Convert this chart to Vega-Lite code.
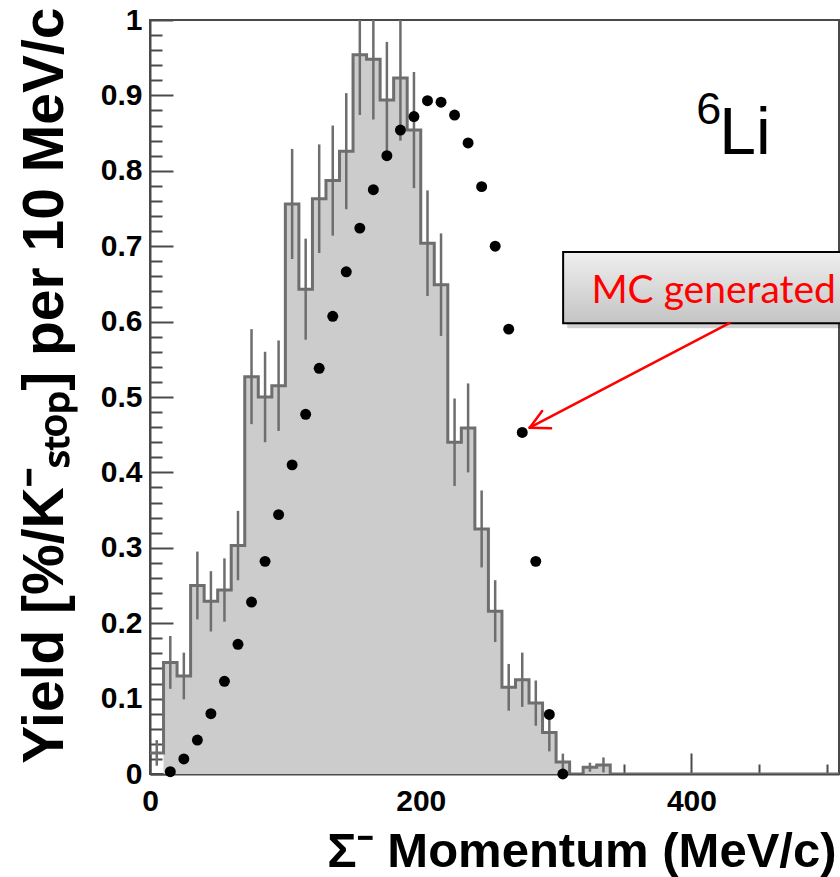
{
  "$schema": "https://vega.github.io/schema/vega-lite/v6.json",
  "width": 689,
  "height": 754,
  "autosize": {"type": "none"},
  "padding": {"left": 150, "top": 20, "right": 1, "bottom": 103},
  "background": "white",
  "config": {
    "view": {"stroke": "#4a4a4a", "strokeWidth": 2},
    "axis": {"grid": false, "domainColor": "#4a4a4a", "domainWidth": 2, "tickColor": "#4a4a4a", "tickWidth": 2, "labelColor": "black", "titleColor": "black", "labelFont": "Liberation Sans", "titleFont": "Liberation Sans", "labelFontWeight": "bold", "titleFontWeight": "bold", "labelOverlap": false, "labelFlush": false, "labelBound": false}
  },
  "datasets": {
    "hist": [
      {"x": 0, "y": 0.028}, {"x": 10, "y": 0.148}, {"x": 20, "y": 0.130}, {"x": 30, "y": 0.250},
      {"x": 40, "y": 0.229}, {"x": 50, "y": 0.244}, {"x": 60, "y": 0.303}, {"x": 70, "y": 0.527},
      {"x": 80, "y": 0.500}, {"x": 90, "y": 0.515}, {"x": 100, "y": 0.756}, {"x": 110, "y": 0.643},
      {"x": 120, "y": 0.763}, {"x": 130, "y": 0.787}, {"x": 140, "y": 0.826}, {"x": 150, "y": 0.954},
      {"x": 160, "y": 0.948}, {"x": 170, "y": 0.894}, {"x": 180, "y": 0.923}, {"x": 190, "y": 0.854},
      {"x": 200, "y": 0.704}, {"x": 210, "y": 0.649}, {"x": 220, "y": 0.440}, {"x": 230, "y": 0.459},
      {"x": 240, "y": 0.325}, {"x": 250, "y": 0.216}, {"x": 260, "y": 0.115}, {"x": 270, "y": 0.125},
      {"x": 280, "y": 0.094}, {"x": 290, "y": 0.055}, {"x": 300, "y": 0.016}, {"x": 310, "y": 0},
      {"x": 320, "y": 0.009}, {"x": 330, "y": 0.012}, {"x": 340, "y": 0}, {"x": 509, "y": 0}
    ],
    "err": [
      {"x": 5, "y": 0.011, "y2": 0.045}, {"x": 15, "y": 0.113, "y2": 0.183}, {"x": 25, "y": 0.099, "y2": 0.161},
      {"x": 35, "y": 0.205, "y2": 0.295}, {"x": 45, "y": 0.189, "y2": 0.269}, {"x": 55, "y": 0.202, "y2": 0.286},
      {"x": 65, "y": 0.257, "y2": 0.349}, {"x": 75, "y": 0.464, "y2": 0.590}, {"x": 85, "y": 0.440, "y2": 0.560},
      {"x": 95, "y": 0.455, "y2": 0.575}, {"x": 105, "y": 0.683, "y2": 0.829}, {"x": 115, "y": 0.576, "y2": 0.710},
      {"x": 125, "y": 0.691, "y2": 0.835}, {"x": 135, "y": 0.714, "y2": 0.860}, {"x": 145, "y": 0.749, "y2": 0.903},
      {"x": 155, "y": 0.874, "y2": 1.034}, {"x": 165, "y": 0.868, "y2": 1.028}, {"x": 175, "y": 0.817, "y2": 0.971},
      {"x": 185, "y": 0.840, "y2": 1.006}, {"x": 195, "y": 0.777, "y2": 0.931}, {"x": 205, "y": 0.634, "y2": 0.774},
      {"x": 215, "y": 0.581, "y2": 0.717}, {"x": 225, "y": 0.382, "y2": 0.498}, {"x": 235, "y": 0.400, "y2": 0.518},
      {"x": 245, "y": 0.274, "y2": 0.376}, {"x": 255, "y": 0.175, "y2": 0.257}, {"x": 265, "y": 0.084, "y2": 0.146},
      {"x": 275, "y": 0.089, "y2": 0.161}, {"x": 285, "y": 0.064, "y2": 0.124}, {"x": 295, "y": 0.030, "y2": 0.080},
      {"x": 305, "y": 0.005, "y2": 0.027}, {"x": 325, "y": 0.003, "y2": 0.015}, {"x": 335, "y": 0.002, "y2": 0.022}
    ],
    "mc": [
      {"x": 15, "y": 0.003}, {"x": 25, "y": 0.020}, {"x": 35, "y": 0.045}, {"x": 45, "y": 0.080},
      {"x": 55, "y": 0.123}, {"x": 65, "y": 0.172}, {"x": 75, "y": 0.228}, {"x": 85, "y": 0.282},
      {"x": 95, "y": 0.344}, {"x": 105, "y": 0.410}, {"x": 115, "y": 0.477}, {"x": 125, "y": 0.538},
      {"x": 135, "y": 0.607}, {"x": 145, "y": 0.666}, {"x": 155, "y": 0.724}, {"x": 165, "y": 0.775},
      {"x": 175, "y": 0.820}, {"x": 185, "y": 0.854}, {"x": 195, "y": 0.872}, {"x": 205, "y": 0.893},
      {"x": 215, "y": 0.891}, {"x": 225, "y": 0.874}, {"x": 235, "y": 0.837}, {"x": 245, "y": 0.779},
      {"x": 255, "y": 0.700}, {"x": 265, "y": 0.590}, {"x": 275, "y": 0.453}, {"x": 285, "y": 0.282},
      {"x": 295, "y": 0.079}, {"x": 305, "y": 0.000}
    ],
    "arrow": [
      {"x": 428, "y": 0.598, "x2": 280.5, "y2": 0.4593},
      {"x": 289.7, "y": 0.4813, "x2": 280.5, "y2": 0.4593},
      {"x": 296.3, "y": 0.4584, "x2": 280.5, "y2": 0.4593}
    ],
    "box": [{"x": 305.2, "x2": 512, "y": 0.5978, "y2": 0.6924}],
    "boxlabel": [{"x": 416.4, "y": 0.625, "t": "MC generated"}],
    "nucl": [{"x": 420.6, "y": 0.822, "t": "Li"}],
    "mass": [{"x": 403.6, "y": 0.862, "t": "6"}]
  },
  "encoding": {
    "x": {"field": "x", "type": "quantitative", "scale": {"domain": [0, 509], "nice": false, "zero": false},
      "axis": {
        "values": [0, 50, 100, 150, 200, 250, 300, 350, 400, 450, 500],
        "tickSize": {"condition": {"test": "datum.value % 200 == 0", "value": -21}, "value": -10},
        "labelExpr": "datum.value % 200 == 0 ? format(datum.value, 'd') : ''",
        "labelFontSize": 30, "labelPadding": 33,
        "title": "Σ⁻ Momentum (MeV/c)", "titleFontSize": 49,
        "titleAlign": "right", "titleBaseline": "alphabetic", "titleX": 686, "titleY": 92
      }},
    "y": {"field": "y", "type": "quantitative", "scale": {"domain": [0, 1], "nice": false, "zero": false},
      "axis": {
        "values": [0, 0.02, 0.04, 0.06, 0.08, 0.1, 0.12, 0.14, 0.16, 0.18, 0.2, 0.22, 0.24, 0.26, 0.28, 0.3, 0.32, 0.34, 0.36, 0.38, 0.4, 0.42, 0.44, 0.46, 0.48, 0.5, 0.52, 0.54, 0.56, 0.58, 0.6, 0.62, 0.64, 0.66, 0.68, 0.7, 0.72, 0.74, 0.76, 0.78, 0.8, 0.82, 0.84, 0.86, 0.88, 0.9, 0.92, 0.94, 0.96, 0.98, 1],
        "tickSize": {"condition": {"test": "abs(datum.value*10 - round(datum.value*10)) < 0.001", "value": -23}, "value": -12},
        "labelExpr": "abs(datum.value*10 - round(datum.value*10)) < 0.001 ? format(datum.value, '.1~f') : ''",
        "labelFontSize": 30, "labelPadding": 31,
        "title": "Yield [%/K⁻ₛₜₒₚ] per 10 MeV/c", "titleFontSize": 57,
        "titleAngle": -90, "titleAlign": "right", "titleBaseline": "alphabetic", "titleX": -88, "titleY": -13
      }}
  },
  "layer": [
    {
      "data": {"name": "hist"},
      "transform": [{"filter": "datum.x >= 10"}],
      "mark": {"type": "area", "interpolate": "step-after", "fill": "#cccccc", "clip": true}
    },
    {
      "data": {"name": "hist"},
      "mark": {"type": "line", "interpolate": "step-after", "stroke": "#6e6e6e", "strokeWidth": 3, "clip": true}
    },
    {
      "data": {"name": "err"},
      "mark": {"type": "rule", "stroke": "#6e6e6e", "strokeWidth": 2.5, "clip": true},
      "encoding": {"y2": {"field": "y2"}}
    },
    {
      "data": {"name": "mc"},
      "mark": {"type": "point", "shape": "circle", "filled": true, "fill": "black", "opacity": 1, "size": 120}
    },
    {
      "data": {"name": "mass"},
      "mark": {"type": "text", "font": "Liberation Sans", "fontSize": 45, "align": "left", "baseline": "alphabetic", "color": "black"},
      "encoding": {"text": {"field": "t"}}
    },
    {
      "data": {"name": "nucl"},
      "mark": {"type": "text", "font": "Liberation Sans", "fontSize": 66, "align": "left", "baseline": "alphabetic", "color": "black"},
      "encoding": {"text": {"field": "t"}}
    },
    {
      "data": {"name": "box"},
      "mark": {"type": "rect", "fill": "#000000", "opacity": 0.18, "xOffset": 4, "yOffset": 5, "x2Offset": 4, "y2Offset": 5},
      "encoding": {"x2": {"field": "x2"}, "y2": {"field": "y2"}}
    },
    {
      "data": {"name": "box"},
      "mark": {"type": "rect", "stroke": "black", "strokeWidth": 2,
        "fill": {"gradient": "linear", "x1": 0, "y1": 0, "x2": 0, "y2": 1, "stops": [{"offset": 0, "color": "#efefef"}, {"offset": 1, "color": "#c4c4c4"}]}},
      "encoding": {"x2": {"field": "x2"}, "y2": {"field": "y2"}}
    },
    {
      "data": {"name": "boxlabel"},
      "mark": {"type": "text", "font": "Lato", "fontSize": 39, "align": "center", "baseline": "alphabetic", "color": "#ff0000"},
      "encoding": {"text": {"field": "t"}}
    },
    {
      "data": {"name": "arrow"},
      "mark": {"type": "rule", "stroke": "#ff0000", "strokeWidth": 2.5, "strokeCap": "round"},
      "encoding": {"x2": {"field": "x2"}, "y2": {"field": "y2"}}
    }
  ]
}
